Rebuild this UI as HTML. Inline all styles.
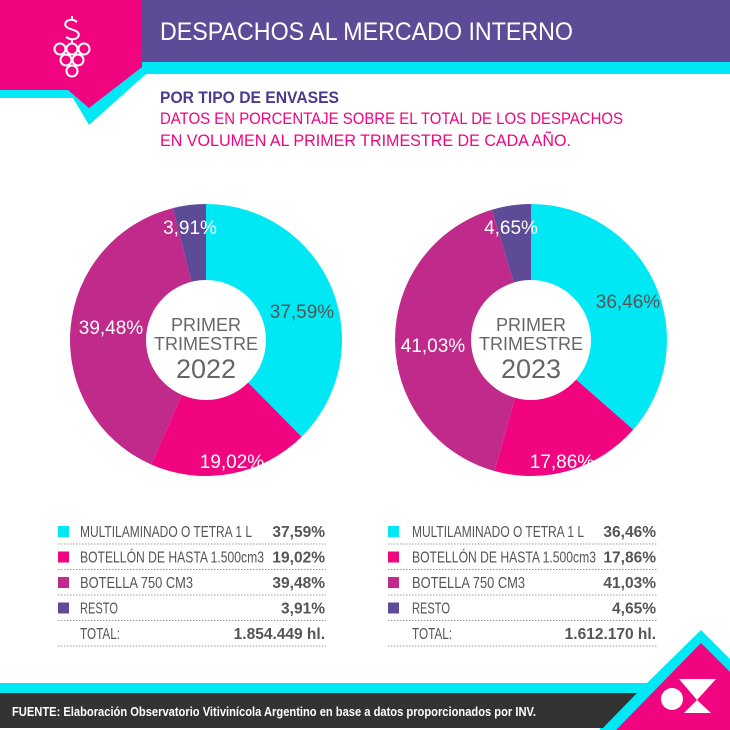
<!DOCTYPE html>
<html><head><meta charset="utf-8"><style>
html,body{margin:0;padding:0;background:#fff}
svg{display:block}
text{font-family:"Liberation Sans",sans-serif}
</style></head><body>
<svg id="s" width="730" height="730" viewBox="0 0 730 730" xmlns="http://www.w3.org/2000/svg">
<rect width="730" height="730" fill="#fff"/>
<polygon points="0,0 730,0 730,74 146,74 89,125 73,98 0,98" fill="#00e8f4"/>
<rect x="142" y="0" width="588" height="62" fill="#5e4b97"/>
<polygon points="0,0 142,0 142,67 89,108 68,90 0,90" fill="#f0047f"/>
<g fill="none" stroke="#fff" stroke-width="2">
<circle cx="60" cy="49" r="5.5"/><circle cx="72" cy="49" r="5.5"/><circle cx="84" cy="49" r="5.5"/>
<circle cx="66" cy="60" r="5.5"/><circle cx="78" cy="60" r="5.5"/><circle cx="72" cy="71" r="5.5"/>
<path d="M77,22 Q72,18 67,21 Q63,25 68,28 L76,31 Q81,34 77,38 Q72,41 66,37 M72,16 V20 M72,39 V43"/>
</g>
<text x="160" y="40" fill="#fff" font-size="25" textLength="413" lengthAdjust="spacingAndGlyphs">DESPACHOS AL MERCADO INTERNO</text>
<text x="160" y="103" fill="#4b3a8c" font-size="17" font-weight="bold" textLength="179" lengthAdjust="spacingAndGlyphs">POR TIPO DE ENVASES</text>
<text x="160" y="124" fill="#f0047f" font-size="17" textLength="463" lengthAdjust="spacingAndGlyphs">DATOS EN PORCENTAJE SOBRE EL TOTAL DE LOS DESPACHOS</text>
<text x="160" y="146" fill="#f0047f" font-size="17" textLength="411" lengthAdjust="spacingAndGlyphs">EN VOLUMEN AL PRIMER TRIMESTRE DE CADA AÑO.</text>
<g id="donuts"></g>
<g fill="#666" text-anchor="middle">
<text x="206" y="331" font-size="18">PRIMER</text>
<text x="206" y="350" font-size="18">TRIMESTRE</text>
<text x="206" y="378" font-size="27">2022</text>
<text x="531" y="331" font-size="18">PRIMER</text>
<text x="531" y="350" font-size="18">TRIMESTRE</text>
<text x="531" y="378" font-size="27">2023</text>
</g>
<g font-size="19" text-anchor="middle">
<text x="302" y="318" fill="#555">37,59%</text>
<text x="232" y="468" fill="#fff">19,02%</text>
<text x="111" y="334" fill="#fff">39,48%</text>
<text x="190" y="234" fill="#fff">3,91%</text>
<text x="628" y="308" fill="#555">36,46%</text>
<text x="562" y="468" fill="#fff">17,86%</text>
<text x="433" y="352" fill="#fff">41,03%</text>
<text x="511" y="234" fill="#fff">4,65%</text>
</g>
<g id="legend"></g>
<polygon points="0,683 647,683 701,630 730,659 730,730 0,730" fill="#00e8f4"/>
<polygon points="0,693 637,693 603,728 0,728" fill="#333"/>
<rect x="0" y="728" width="600" height="2" fill="#fff"/>
<polygon points="616,730 701,643 730,672 730,730" fill="#f0047f"/>
<circle cx="672" cy="699" r="11" fill="#fff"/>
<polygon points="679,679 716,679 697,700" fill="#fff"/>
<polygon points="697,700 711,713 684,713" fill="#fff"/>
<text x="12" y="716" fill="#fff" font-size="12.5" font-weight="bold" textLength="524" lengthAdjust="spacingAndGlyphs">FUENTE: Elaboración Observatorio Vitivinícola Argentino en base a datos proporcionados por INV.</text>
</svg>
<script>
var NS="http://www.w3.org/2000/svg";
var cols=["#00e8f4","#f0047f","#c02a8a","#5e4b97"];
function donut(cx,cy,vals){
 var g=document.getElementById("donuts"),R=136,r=60,a=0,tot=vals.reduce(function(x,y){return x+y},0);
 vals.forEach(function(v,i){
  var a0=a/tot*2*Math.PI,a1=(a+v)/tot*2*Math.PI;a+=v;
  var x0=cx+R*Math.sin(a0),y0=cy-R*Math.cos(a0),x1=cx+R*Math.sin(a1),y1=cy-R*Math.cos(a1);
  var lg=(a1-a0)>Math.PI?1:0;
  var p=document.createElementNS(NS,"path");
  p.setAttribute("d","M"+cx+","+cy+" L"+x0+","+y0+" A"+R+","+R+" 0 "+lg+" 1 "+x1+","+y1+" Z");
  p.setAttribute("fill",cols[i]);g.appendChild(p);
 });
 var c=document.createElementNS(NS,"circle");c.setAttribute("cx",cx);c.setAttribute("cy",cy);c.setAttribute("r",r);c.setAttribute("fill","#fff");g.appendChild(c);
}
donut(206,340,[37.59,19.02,39.48,3.91]);
donut(531,340,[36.46,17.86,41.03,4.65]);
var lg=document.getElementById("legend");
function t(x,y,s,o){var e=document.createElementNS(NS,"text");e.setAttribute("x",x);e.setAttribute("y",y);e.textContent=s;for(var k in o)e.setAttribute(k,o[k]);lg.appendChild(e);}
var labels=[["MULTILAMINADO O TETRA 1 L",172],["BOTELLÓN DE HASTA 1.500cm3",184],["BOTELLA 750 CM3",113],["RESTO",38],["TOTAL:",40]];
var vals=[["37,59%","19,02%","39,48%","3,91%","1.854.449 hl."],["36,46%","17,86%","41,03%","4,65%","1.612.170 hl."]];
[[58,80,325],[388,412,656]].forEach(function(c,j){
 for(var i=0;i<5;i++){
  var y=537+i*25.5;
  if(i<4){var r=document.createElementNS(NS,"rect");r.setAttribute("x",c[0]);r.setAttribute("y",y-11);r.setAttribute("width",11);r.setAttribute("height",11);r.setAttribute("fill",cols[i]);lg.appendChild(r);}
  t(c[1],y,labels[i][0],{"font-size":"15.5","fill":"#555","textLength":labels[i][1],"lengthAdjust":"spacingAndGlyphs"});
  t(c[2],y,vals[j][i],{"font-size":"15.5","fill":"#555","text-anchor":"end","font-weight":"bold"});
  var l=document.createElementNS(NS,"line");l.setAttribute("x1",c[0]);l.setAttribute("x2",c[2]+1);l.setAttribute("y1",y+7);l.setAttribute("y2",y+7);l.setAttribute("stroke","#999");l.setAttribute("stroke-dasharray","1.5,1.5");lg.appendChild(l);
 }
});
</script>
</body></html>
